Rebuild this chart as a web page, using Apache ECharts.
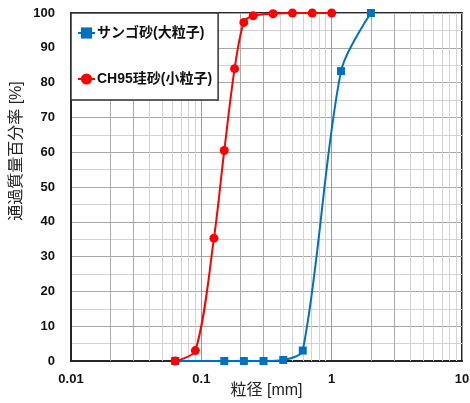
<!DOCTYPE html>
<html>
<head>
<meta charset="utf-8">
<style>
  html, body { margin: 0; padding: 0; background: #fff; }
  #chart { width: 470px; height: 403px; }
</style>
<script src="https://cdn.jsdelivr.net/npm/echarts@6/dist/echarts.min.js"></script>
</head>
<body>
<div id="chart"></div>
<script>
// Particle size distribution (passing percentage by sieve size)
const seriesNames = ['サンゴ砂(大粒子)', 'CH95珪砂(小粒子)'];

const coralSize = [0.063, 0.15, 0.212, 0.3, 0.425, 0.6, 1.18, 2.0];
const coralPassing = [0, 0, 0, 0, 0.3, 3, 83.3, 100];

const silicaSize = [0.063, 0.09, 0.125, 0.15, 0.18, 0.212, 0.25, 0.355, 0.5, 0.71, 1.0];
const silicaPassing = [0, 3, 35.3, 60.5, 84, 97.3, 99.2, 99.8, 100, 100, 100];

const xTicks = [0.01, 0.1, 1, 10];
const yTicks = [0, 10, 20, 30, 40, 50, 60, 70, 80, 90, 100];

const FONT = '"Liberation Sans", "Noto Sans CJK JP", sans-serif';

// Intermediate log-paper grid lines (2..9 within each decade)
const minorGrid = [];
[0.01, 0.1, 1].forEach(function (d) {
  for (let k = 2; k <= 9; k++) {
    minorGrid.push({
      xAxis: +(d * k).toPrecision(3),
      lineStyle: { color: k <= 3 ? '#aaaaaa' : '#d2d2d2', width: 1, type: 'solid' }
    });
  }
});

function pairs(xs, ys) { return xs.map(function (x, i) { return [x, ys[i]]; }); }

const chart = echarts.init(document.getElementById('chart'), null, { renderer: 'canvas' });
chart.setOption({
  animation: false,
  backgroundColor: '#fff',
  textStyle: { fontFamily: FONT },
  grid: {
    left: 71, right: 8, top: 13, bottom: 42,
    containLabel: false, outerBoundsMode: 'none',
    show: true, borderColor: '#262626', borderWidth: 2, backgroundColor: 'transparent'
  },
  legend: {
    orient: 'vertical',
    left: 71, top: 13,
    z: 20,
    padding: [13, 6, 14, 6],
    itemGap: 32,
    itemWidth: 17, itemHeight: 14,
    backgroundColor: '#fff',
    borderColor: '#333', borderWidth: 1.5,
    textStyle: { fontFamily: FONT, fontSize: 14, fontWeight: 'bold', color: '#111', padding: [0, 0, 0, -3] },
    data: seriesNames
  },
  xAxis: {
    type: 'log', logBase: 10, min: xTicks[0], max: xTicks[xTicks.length - 1],
    name: '粒径 [mm]', nameLocation: 'middle', nameGap: 22, nameMoveOverlap: false,
    nameTextStyle: { fontFamily: FONT, fontSize: 16, color: '#222' },
    axisLine: { show: true, onZero: false, lineStyle: { color: '#262626', width: 2 } },
    axisTick: { show: false },
    axisLabel: {
      margin: 12, color: '#111', fontSize: 13, fontWeight: 'bold', fontFamily: FONT,
      formatter: function (v) { return String(+v.toPrecision(3)); }
    },
    splitLine: { show: true, lineStyle: { color: '#999999', width: 1 } }
  },
  yAxis: {
    type: 'value', min: yTicks[0], max: yTicks[yTicks.length - 1], interval: 10,
    name: '通過質量百分率 [%]', nameLocation: 'middle', nameGap: 46, nameRotate: 90, nameMoveOverlap: false,
    nameTextStyle: { fontFamily: FONT, fontSize: 16, color: '#222', padding: [0, 0, 0, 72] },
    axisLine: { show: true, lineStyle: { color: '#262626', width: 2 } },
    axisTick: { show: false },
    axisLabel: { margin: 16, color: '#111', fontSize: 13, fontWeight: 'bold', fontFamily: FONT },
    splitLine: { show: true, lineStyle: { color: '#a8a8a8', width: 1 } },
    minorTick: { show: false, splitNumber: 2 },
    minorSplitLine: { show: true, lineStyle: { color: '#d2d2d2', width: 1 } }
  },
  series: [
    {
      name: 'grid-minor',
      type: 'line',
      data: [],
      silent: true,
      z: 1,
      markLine: { silent: true, z: 1, symbol: ['none', 'none'], label: { show: false }, animation: false, data: minorGrid }
    },
    {
      name: seriesNames[0],
      type: 'line',
      data: pairs(coralSize, coralPassing),
      smooth: 0.3,
      symbol: 'rect', symbolSize: 8,
      lineStyle: { color: '#0070C0', width: 2 },
      itemStyle: { color: '#0070C0' },
      z: 3
    },
    {
      name: seriesNames[1],
      type: 'line',
      data: pairs(silicaSize, silicaPassing),
      smooth: 0.3,
      symbol: 'circle', symbolSize: 9,
      lineStyle: { color: '#FF0000', width: 2 },
      itemStyle: { color: '#FF0000' },
      z: 4
    }
  ]
});
</script>
</body>
</html>
